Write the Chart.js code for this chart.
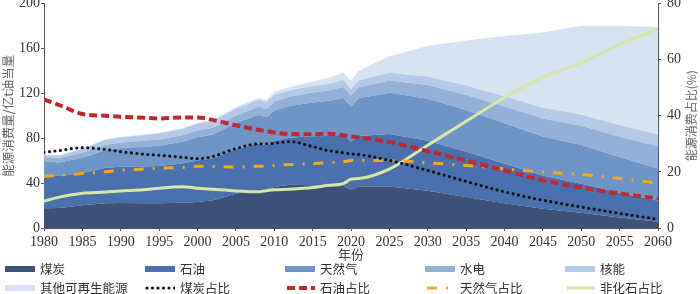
<!DOCTYPE html>
<html>
<head>
<meta charset="utf-8">
<script src="https://cdn.jsdelivr.net/npm/chart.js@4/dist/chart.umd.min.js"></script>
<style>
    body { margin: 0; background: #fff; }
    #wrap { position: relative; width: 700px; height: 294px; overflow: hidden; }
    #energyChart { position: absolute; left: 0; top: -11px; }
    #legend { position: absolute; left: 5px; top: 259px; width: 700px;
        font-family: 'Liberation Serif', 'Noto Sans CJK SC', serif; font-size: 12.5px; color: #333; }
    .row { display: flex; height: 19px; align-items: center; }
    .item { width: 142px; display: flex; align-items: center; }
    .item svg { margin-right: 5px; }
</style>
</head>
<body>
<div id="wrap">
    <canvas id="energyChart" width="700" height="305"></canvas>
    <div id="legend"></div>
</div>
<script>
const years = [1980, 1982, 1985, 1988, 1990, 1993, 1995, 1998, 2000, 2002, 2005, 2008, 2009, 2010,
    2012, 2015, 2017, 2019, 2020, 2021, 2025, 2030, 2035, 2040, 2045, 2050, 2055, 2060];

// 能源消费量 / 亿t油当量
const coal = [17.6, 17.9, 20.2, 22.1, 22.2, 22.0, 22.0, 22.4, 23.2, 24.7, 30.6, 34.8, 34.2, 36.5,
    38.5, 38.0, 37.0, 37.3, 34.3, 36.7, 36.9, 33.2, 27.7, 22.1, 17.2, 13.5, 9.4, 5.5];
const oil = [29.8, 28.3, 28.6, 31.6, 32.3, 32.8, 33.2, 35.1, 37.0, 37.3, 39.5, 40.5, 39.3, 41.1,
    41.9, 43.8, 45.0, 45.9, 42.4, 45.2, 46.8, 44.4, 40.1, 35.1, 29.6, 25.9, 22.1, 18.8];
const gas = [12.0, 12.1, 13.7, 15.8, 16.8, 17.5, 18.1, 19.2, 20.7, 21.2, 23.4, 25.5, 25.1, 27.0,
    28.3, 30.0, 31.2, 32.8, 31.2, 33.6, 36.7, 37.6, 37.2, 36.1, 34.6, 34.4, 31.7, 28.6];
const hydro = [3.9, 4.1, 4.4, 4.7, 4.9, 5.3, 5.5, 5.8, 6.0, 6.0, 6.6, 7.2, 7.2, 7.8,
    8.3, 8.8, 9.2, 9.5, 9.8, 9.9, 11.0, 12.2, 13.5, 15.0, 16.2, 17.2, 18.1, 20.0];
const nuclear = [1.6, 2.1, 3.4, 4.3, 4.5, 4.9, 5.3, 5.6, 5.9, 6.1, 6.3, 6.2, 6.1, 6.3,
    5.6, 5.8, 5.9, 6.2, 5.9, 6.1, 6.8, 7.6, 8.4, 9.0, 9.4, 10.0, 10.3, 10.4];
const otherRenew = [0.3, 0.3, 0.4, 0.5, 0.6, 0.7, 0.8, 0.9, 1.0, 1.1, 1.3, 1.8, 2.0, 2.3,
    2.9, 4.0, 5.2, 6.8, 7.2, 8.3, 14.8, 27.0, 40.1, 53.7, 67.0, 79.0, 88.4, 95.7];

// 能源消费占比 / %
const coalShare = [27.0, 27.6, 28.6, 28.0, 27.2, 26.3, 25.9, 25.2, 24.7, 25.5, 28.3, 30.0, 30.0, 30.2,
    30.8, 29.0, 27.6, 26.8, 26.4, 26.2, 24.1, 20.5, 16.6, 12.9, 9.9, 7.5, 5.2, 3.1];
const oilShare = [45.8, 43.8, 40.6, 40.0, 39.6, 39.3, 39.0, 39.4, 39.4, 38.5, 36.6, 34.9, 34.5, 34.0,
    33.5, 33.4, 33.6, 33.0, 32.6, 32.3, 30.6, 27.4, 24.0, 20.5, 17.0, 14.4, 12.3, 10.5];
const gasShare = [18.4, 18.8, 19.4, 20.0, 20.6, 21.0, 21.3, 21.6, 22.0, 21.9, 21.7, 22.0, 22.0, 22.3,
    22.6, 22.9, 23.3, 23.6, 24.0, 24.0, 24.0, 23.2, 22.3, 21.1, 19.9, 19.1, 17.6, 16.0];
const nonFossilShare = [9.6, 11.0, 12.4, 12.8, 13.2, 13.6, 14.2, 14.7, 14.2, 13.8, 13.2, 12.9, 13.3, 13.6,
    13.8, 14.4, 15.2, 15.8, 17.4, 17.6, 21.0, 29.5, 38.0, 46.5, 53.6, 58.9, 65.4, 70.9];

const serif = "'Liberation Serif', 'Noto Sans CJK SC', serif";
const cjk = "'Noto Sans CJK SC', sans-serif";

const toPoints = arr => arr.map((v, i) => ({x: years[i], y: v}));

const areas = [
    {label: '煤炭', data: coal, color: '#3e5179'},
    {label: '石油', data: oil, color: '#4a70ad'},
    {label: '天然气', data: gas, color: '#6f95c7'},
    {label: '水电', data: hydro, color: '#93b1d8'},
    {label: '核能', data: nuclear, color: '#b4c9e5'},
    {label: '其他可再生能源', data: otherRenew, color: '#d8e3f1'}
];
const lines = [
    {label: '煤炭占比', data: coalShare, color: '#111111', width: 3.2, dash: [0, 5.5], cap: 'round'},
    {label: '石油占比', data: oilShare, color: '#c1272d', width: 4, dash: [8, 4], cap: 'butt'},
    {label: '天然气占比', data: gasShare, color: '#f5a81c', width: 3, dash: [10, 9, 2, 9], cap: 'butt'},
    {label: '非化石占比', data: nonFossilShare, color: '#d6e7a7', width: 3, dash: [], cap: 'butt'}
];

const datasets = [];
areas.forEach((a, i) => {
    datasets.push({
        label: a.label,
        data: toPoints(a.data),
        yAxisID: 'y',
        backgroundColor: a.color,
        borderWidth: 0,
        pointRadius: 0,
        fill: i === 0 ? 'origin' : '-1',
        tension: 0,
        order: 2
    });
});
lines.forEach(l => {
    datasets.push({
        label: l.label,
        data: toPoints(l.data),
        yAxisID: 'y1',
        borderColor: l.color,
        borderWidth: l.width,
        borderDash: l.dash,
        borderCapStyle: l.cap,
        pointRadius: 0,
        fill: false,
        cubicInterpolationMode: 'monotone',
        order: 1
    });
});

const sideTitles = {
    id: 'sideTitles',
    afterDraw(chart) {
        const {ctx, chartArea} = chart;
        const cy = (chartArea.top + chartArea.bottom) / 2;
        ctx.save();
        ctx.fillStyle = '#666';
        ctx.textAlign = 'center';
        ctx.textBaseline = 'middle';
        ctx.font = '12.5px ' + cjk;
        ctx.translate(8, cy);
        ctx.rotate(-Math.PI / 2);
        ctx.fillText('能源消费量/亿t油当量', 0, 0);
        ctx.restore();
        ctx.save();
        ctx.fillStyle = '#666';
        ctx.textAlign = 'center';
        ctx.textBaseline = 'middle';
        ctx.font = '12px ' + cjk;
        ctx.translate(691, cy);
        ctx.rotate(-Math.PI / 2);
        ctx.fillText('能源消费占比(%)', 0, 0);
        ctx.restore();
    }
};

const axisGrid = {drawOnChartArea: false, drawTicks: true, tickLength: 3, color: '#555'};
const axisBorder = {color: '#555', width: 1};
const tickFont = {family: serif, size: 14};

const chart = new Chart(document.getElementById('energyChart'), {
    type: 'line',
    data: {datasets: datasets},
    options: {
        responsive: false,
        animation: false,
        layout: {padding: {top: 0, bottom: 32, left: 0, right: 0}},
        plugins: {legend: {display: false}, tooltip: {enabled: false}},
        scales: {
            x: {
                type: 'linear', min: 1980, max: 2060,
                grid: axisGrid, border: axisBorder,
                ticks: {stepSize: 5, autoSkip: false, maxRotation: 0, color: '#333', font: tickFont,
                    padding: 3, callback: v => String(v)},
                title: {display: true, text: '年份', color: '#444', font: {family: cjk, size: 13},
                    padding: {top: 0, bottom: 0}},
                afterFit: s => { s.height = 34; }
            },
            y: {
                position: 'left', stacked: true, min: 0, max: 200,
                grid: axisGrid, border: axisBorder,
                ticks: {stepSize: 40, color: '#333', font: tickFont, padding: 1},
                afterFit: s => { s.width = 44; }
            },
            y1: {
                position: 'right', min: 0, max: 80,
                grid: axisGrid, border: axisBorder,
                ticks: {stepSize: 20, color: '#333', font: tickFont, padding: 6},
                afterFit: s => { s.width = 42; }
            }
        }
    },
    plugins: [sideTitles]
});

// legend in two rows of five, as in the figure
function swatch(item) {
    if (item.dash === undefined) {
        return `<svg width="30" height="8"><rect x="0" y="1" width="30" height="6" fill="${item.color}"/></svg>`;
    }
    const dash = item.dash.length ? item.dash.join(' ') : 'none';
    return `<svg width="30" height="8"><line x1="2" y1="4" x2="30" y2="4" stroke="${item.color}"
        stroke-width="${item.width}" stroke-dasharray="${dash}" stroke-linecap="${item.cap}"/></svg>`;
}
const legendItems = areas.concat(lines);
let html = '';
for (let r = 0; r < 2; r++) {
    html += '<div class="row">';
    for (let c = 0; c < 5; c++) {
        const it = legendItems[r * 5 + c];
        html += `<div class="item">${swatch(it)}<span>${it.label}</span></div>`;
    }
    html += '</div>';
}
document.getElementById('legend').innerHTML = html;
</script>
</body>
</html>
